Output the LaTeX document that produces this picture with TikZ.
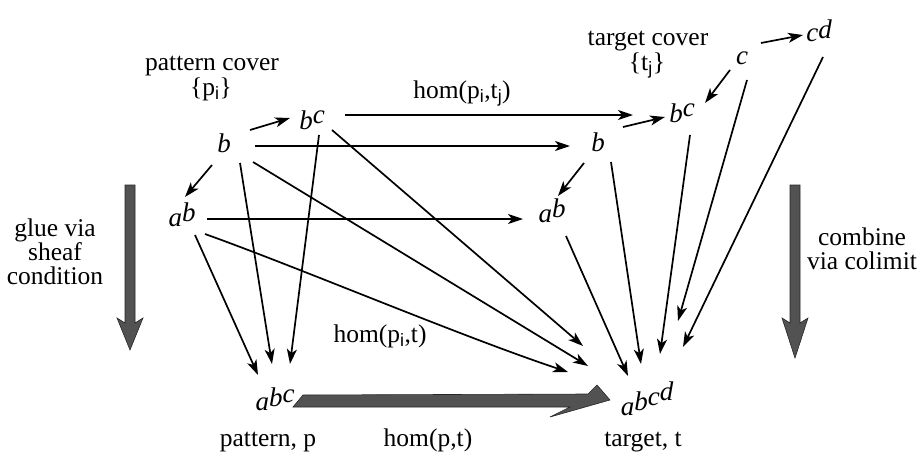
\documentclass[tikz,border=0pt]{standalone}
\usepackage{fontspec}
\setmainfont{Liberation Serif}
\setsansfont{Liberation Sans}
\usetikzlibrary{arrows.meta,calc}
\newcommand\sbs[1]{\textsubscript{\sffamily #1}}
\newcommand\rs[2]{\raisebox{#1}{#2}}
\begin{document}
\begin{tikzpicture}[x=1pt,y=-1pt,
  lbl/.style={font=\fontsize{25.5}{26}\selectfont, anchor=base, inner sep=0pt},
  obj/.style={font=\fontsize{27}{27}\selectfont\itshape, inner sep=0pt},
  arr/.style={line width=1.7pt, -{Stealth[length=15pt,width=10pt,inset=4pt]}},
  bigarrow/.style={fill=black!68, draw=black!85, line width=0.6pt}]
\useasboundingbox (0,0) rectangle (918,458);

% objects
\node[obj] (pb)  at (224,143) {b};
\node[obj] (pbc) at (312,120) {b\rs{6pt}{c}};
\node[obj] (pab) at (182,215) {a\rs{5pt}{b}};
\node[obj] (pabc) at (275,399) {a\rs{4pt}{b}\rs{8pt}{c}};
\node[obj] (tb)  at (598,142) {b};
\node[obj] (tbc) at (682,113) {b\rs{6pt}{c}};
\node[obj] (tab) at (552,211) {a\rs{5pt}{b}};
\node[obj] (tc)  at (742,58) {c};
\node[obj] (tcd) at (819,31) {c\rs{3pt}{d}};
\node[obj] (tabcd) at (647,399) {a\rs{5pt}{b}\rs{10pt}{c}\rs{15pt}{d}};

% labels
\node[lbl] (pcov) at (212,70) {pattern cover};
\node[lbl] (pset) at (211,95) {\{p\sbs{i}\}};
\node[lbl] (tcov) at (648,45) {target cover};
\node[lbl] (tset) at (647,70) {\{t\sbs{j}\}};
\node[lbl] (homij) at (462,98) {hom(p\sbs{i},t\sbs{j})};
\node[lbl] (homi) at (380,342) {hom(p\sbs{i},t)};
\node[lbl] (patp) at (268,446) {pattern, p};
\node[lbl] (hompt) at (428,446) {hom(p,t)};
\node[lbl] (targt) at (643,446) {target, t};
\node[lbl] (glue1) at (55,236) {glue via};
\node[lbl] (glue2) at (55,260) {sheaf};
\node[lbl] (glue3) at (55,284) {condition};
\node[lbl] (comb1) at (862,245) {combine};
\node[lbl] (comb2) at (862,269) {via colimit};

% thick vertical arrows
\fill[bigarrow] (125,185) -- (135,185) -- (135,323) -- (143,318) -- (130,350) -- (117,318) -- (125,323) -- cycle;
\fill[bigarrow] (790,185) -- (800,185) -- (800,323) -- (808,318) -- (795,358) -- (782,318) -- (790,323) -- cycle;

% thick horizontal arrow hom(p,t)
\fill[bigarrow] ($(pabc)+(28,-4)$) -- ($(tabcd)+(-59,-5)$) -- ($(tabcd)+(-50,-14)$) -- ($(tabcd)+(-37,1)$)
  -- ($(tabcd)+(-97,18)$) -- ($(tabcd)+(-77,8)$) -- ($(pabc)+(18,8)$) -- cycle;

% arrows within covers
\draw[arr] ($(pb)+(26,-13)$) -- ($(pbc)+(-22,-2)$);
\draw[arr] ($(pb)+(-12,22)$) -- ($(pab)+(3,-18)$);
\draw[arr] ($(tb)+(25,-15)$) -- ($(tbc)+(-17,4)$);
\draw[arr] ($(tb)+(-14,21)$) -- ($(tab)+(6,-15)$);
\draw[arr] ($(tc)+(-12,12)$) -- ($(tbc)+(23,-10)$);
\draw[arr] ($(tc)+(19,-15)$) -- ($(tcd)+(-16,4)$);

% hom(p_i,t_j)
\draw[arr] ($(pbc)+(33,-5)$) -- ($(tbc)+(-49,2)$);
\draw[arr] ($(pb)+(31,3)$) -- ($(tb)+(-28,4)$);
\draw[arr] ($(pab)+(25,4)$) -- ($(tab)+(-29,8)$);

% glue into abc
\draw[arr] ($(pab)+(13,20)$) -- ($(pabc)+(-17,-24)$);
\draw[arr] ($(pb)+(16,20)$) -- ($(pabc)+(-3,-35)$);
\draw[arr] ($(pbc)+(7,15)$) -- ($(pabc)+(15,-35)$);

% hom(p_i,t)
\draw[arr] ($(pab)+(23,19)$) .. controls ($(pab)+(118,53)$) and ($(tabcd)+(-187,-63)$) .. ($(tabcd)+(-79,-27)$);
\draw[arr] ($(pb)+(29,19)$) -- ($(tabcd)+(-59,-33)$);
\draw[arr] ($(pbc)+(20,10)$) -- ($(tabcd)+(-64,-53)$);

% colimit into abcd
\draw[arr] ($(tab)+(14,25)$) -- ($(tabcd)+(-19,-23)$);
\draw[arr] ($(tb)+(13,20)$) -- ($(tabcd)+(-6,-35)$);
\draw[arr] ($(tbc)+(8,22)$) -- ($(tabcd)+(13,-45)$);
\draw[arr] ($(tc)+(5,22)$) -- ($(tabcd)+(31,-78)$);
\draw[arr] ($(tcd)+(4,26)$) -- ($(tabcd)+(36,-52)$);
\end{tikzpicture}
\end{document}
